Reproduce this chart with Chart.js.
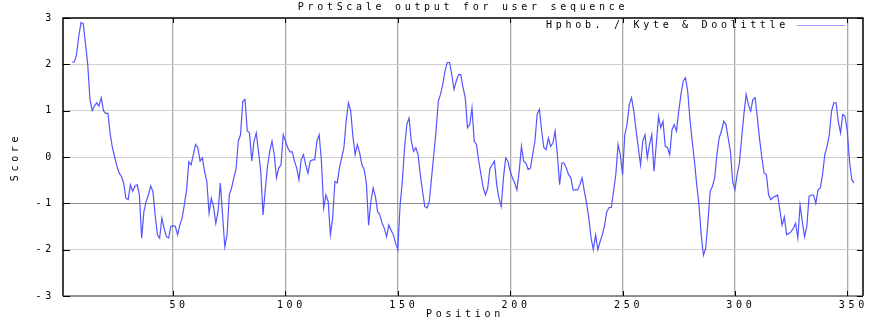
<!DOCTYPE html>
<html><head><meta charset="utf-8">
<script src="https://cdn.jsdelivr.net/npm/chart.js@4/dist/chart.umd.min.js"></script>
<style>html,body{margin:0;padding:0;background:#fff}canvas{display:block}</style>
</head><body>
<canvas id="c" width="875" height="321"></canvas>
<script>
const chartTitle = 'ProtScale output for user sequence';
const seriesName = 'Hphob. / Kyte & Doolittle';
const xAxisTitle = 'Position';
const yAxisTitle = 'Score';
const firstPosition = 5;
const xTickValues = [50, 100, 150, 200, 250, 300, 350];
const yTickValues = [-3, -2, -1, 0, 1, 2, 3];
const xRange = [1, 357];
const scores = [
  2.05, 2.05, 2.2, 2.6, 2.9, 2.88, 2.45, 2.0, 1.24, 1.0,
  1.1, 1.17, 1.1, 1.28, 1.0, 0.94, 0.94, 0.5, 0.2, 0.0,
  -0.2, -0.35, -0.42, -0.56, -0.89, -0.92, -0.6, -0.74, -0.63, -0.6,
  -0.82, -1.75, -1.18, -0.96, -0.82, -0.63, -0.74, -1.25, -1.68, -1.75,
  -1.32, -1.54, -1.72, -1.75, -1.5, -1.48, -1.5, -1.68, -1.47, -1.32,
  -1.03, -0.71, -0.1, -0.17, 0.05, 0.27, 0.2, -0.09, -0.02, -0.31,
  -0.53, -1.21, -0.89, -1.07, -1.43, -1.18, -0.56, -1.25, -1.94, -1.68,
  -0.82, -0.67, -0.45, -0.27, 0.34, 0.48, 1.2, 1.24, 0.56, 0.52,
  -0.09, 0.34, 0.52, 0.12, -0.31, -1.25, -0.71, -0.2, 0.12, 0.34,
  0.05, -0.45, -0.24, -0.17, 0.48, 0.34, 0.2, 0.11, 0.11, -0.09,
  -0.24, -0.49, -0.06, 0.05, -0.17, -0.35, -0.09, -0.06, -0.06, 0.34,
  0.48, -0.09, -1.1, -0.82, -0.96, -1.68, -1.32, -0.53, -0.56, -0.24,
  -0.02, 0.2, 0.77, 1.17, 1.0, 0.45, 0.05, 0.27, 0.09, -0.17,
  -0.27, -0.56, -1.47, -0.96, -0.67, -0.85, -1.18, -1.25, -1.43, -1.54,
  -1.72, -1.47, -1.58, -1.68, -1.86, -2.0, -1.04, -0.53, 0.2, 0.7,
  0.84, 0.34, 0.12, 0.2, 0.05, -0.38, -0.74, -1.07, -1.1, -0.96,
  -0.45, 0.05, 0.56, 1.2, 1.35, 1.57, 1.86, 2.04, 2.04, 1.78,
  1.46, 1.64, 1.78, 1.78, 1.5,
  1.28, 0.63, 0.7, 1.06, 0.34, 0.27, -0.09, -0.38, -0.67, -0.82,
  -0.67, -0.24, -0.17, -0.09, -0.6, -0.89, -1.07, -0.45, -0.02, -0.09,
  -0.31, -0.45, -0.56, -0.71, -0.31, 0.23, -0.09, -0.13, -0.27, -0.24,
  0.05, 0.34, 0.92, 1.03, 0.56, 0.2, 0.16, 0.41, 0.23, 0.3,
  0.56, 0.05, -0.6, -0.13, -0.13, -0.24, -0.38, -0.45, -0.71, -0.71,
  -0.71, -0.6, -0.45, -0.74, -1.0, -1.32, -1.75, -2.0, -1.68, -2.0,
  -1.83, -1.68, -1.47, -1.18, -1.09, -1.09, -0.74, -0.38, 0.27, 0.05,
  -0.38, 0.48, 0.7, 1.13, 1.28, 0.99, 0.59, 0.2, -0.17, 0.34,
  0.48, -0.02, 0.27, 0.48, -0.31, 0.27, 0.88, 0.63, 0.77, 0.23,
  0.2, 0.05, 0.59, 0.7, 0.56, 0.99, 1.35, 1.64, 1.71, 1.42,
  0.81, 0.34, -0.09, -0.6, -1.03, -1.68, -2.12, -1.97, -1.4, -0.74,
  -0.63, -0.45, 0.05, 0.41, 0.56, 0.77, 0.7, 0.41, 0.12, -0.53,
  -0.71, -0.38, -0.13, 0.41, 0.92, 1.35, 1.13, 0.99, 1.24, 1.28,
  0.84, 0.38, -0.02, -0.35, -0.38, -0.82, -0.92, -0.87, -0.85, -0.82,
  -1.14, -1.47, -1.29, -1.68, -1.65, -1.61, -1.54, -1.43, -1.75, -1.04,
  -1.4, -1.72, -1.5, -0.85, -0.82, -0.82, -1.0, -0.71, -0.67, -0.38,
  0.05, 0.23, 0.48, 0.99, 1.17, 1.17, 0.77, 0.52, 0.92, 0.88,
  0.56, -0.09, -0.49, -0.56
];

const FONT = '10px "DejaVu Sans Mono", monospace';
const SPACING = '3.7px';

const points = scores.map((v, i) => ({ x: firstPosition + i, y: v }));

const decorPlugin = {
  id: 'decor',
  beforeDraw(chart) {
    chart.ctx.letterSpacing = SPACING;
  },
  afterDraw(chart) {
    const ctx = chart.ctx;
    const a = chart.chartArea;
    const xs = chart.scales.x, ys = chart.scales.y;
    ctx.save();
    ctx.letterSpacing = SPACING;
    ctx.font = FONT;
    ctx.fillStyle = '#000';
    ctx.textBaseline = 'middle';
    ctx.textAlign = 'center';
    ctx.fillText(chartTitle, (a.left + a.right) / 2, 7);
    ctx.fillText(xAxisTitle, (a.left + a.right) / 2 + 2, 314);
    ctx.save();
    ctx.translate(15, (a.top + a.bottom) / 2);
    ctx.rotate(-Math.PI / 2);
    ctx.fillText(yAxisTitle, 0, 0);
    ctx.restore();
    // legend
    ctx.textAlign = 'left';
    ctx.fillText(seriesName, 546, 25);
    ctx.strokeStyle = '#9a9aff';
    ctx.lineWidth = 1;
    ctx.beginPath();
    ctx.moveTo(797, 25.5); ctx.lineTo(845, 25.5);
    ctx.stroke();
    // frame
    ctx.lineWidth = 1.5;
    ctx.strokeStyle = '#000';
    ctx.beginPath();
    ctx.moveTo(a.left, a.bottom); ctx.lineTo(a.left, a.top); ctx.lineTo(a.right, a.top); ctx.lineTo(a.right, a.bottom);
    ctx.stroke();
    ctx.strokeStyle = '#666';
    ctx.beginPath();
    ctx.moveTo(a.left, a.bottom); ctx.lineTo(a.right, a.bottom);
    ctx.stroke();
    // small tick marks
    ctx.strokeStyle = '#000';
    ctx.lineWidth = 1;
    ctx.beginPath();
    xTickValues.forEach(v => {
      const px = Math.round(xs.getPixelForValue(v)) + 0.5;
      ctx.moveTo(px, a.top); ctx.lineTo(px, a.top + 5);
      ctx.moveTo(px, a.bottom); ctx.lineTo(px, a.bottom - 5);
    });
    yTickValues.forEach(v => {
      const py = Math.round(ys.getPixelForValue(v)) + 0.5;
      ctx.moveTo(a.left, py); ctx.lineTo(a.left + 7, py);
      ctx.moveTo(a.right, py); ctx.lineTo(a.right - 6, py);
    });
    ctx.stroke();
    ctx.restore();
  }
};

Chart.defaults.font.family = '"DejaVu Sans Mono", monospace';
Chart.defaults.font.size = 10;
Chart.defaults.color = '#000';

new Chart(document.getElementById('c'), {
  type: 'line',
  data: {
    datasets: [{
      label: seriesName,
      data: points,
      borderColor: 'rgb(85,85,255)',
      borderWidth: 1.2,
      pointRadius: 0,
      tension: 0,
      fill: false
    }]
  },
  options: {
    responsive: false,
    animation: false,
    devicePixelRatio: 1,
    layout: { padding: { top: 18, right: 12, left: 0, bottom: 0 } },
    plugins: { legend: { display: false }, title: { display: false }, tooltip: { enabled: false } },
    scales: {
      x: {
        type: 'linear',
        min: xRange[0],
        max: xRange[1],
        afterBuildTicks(scale) { scale.ticks = xTickValues.map(v => ({ value: v })); },
        afterFit(scale) { scale.height = 25; },
        border: { display: false },
        grid: { color: '#a9a9a9', lineWidth: 1.3, drawTicks: false },
        ticks: { padding: 3, labelOffset: 6, maxRotation: 0, autoSkip: false, font: { size: 10 } }
      },
      y: {
        min: -3,
        max: 3,
        afterBuildTicks(scale) { scale.ticks = yTickValues.map(v => ({ value: v })); },
        afterFit(scale) { scale.width = 63; },
        border: { display: false },
        grid: {
          drawTicks: false,
          lineWidth: 1,
          color: (c) => (c.tick && c.tick.value === -1) ? '#8c8c8c' : ((c.tick && Math.abs(c.tick.value) === 3) ? 'rgba(0,0,0,0)' : '#cfcfcf')
        },
        ticks: { padding: 8, font: { size: 10 } }
      }
    }
  },
  plugins: [decorPlugin]
});
</script>
</body></html>
